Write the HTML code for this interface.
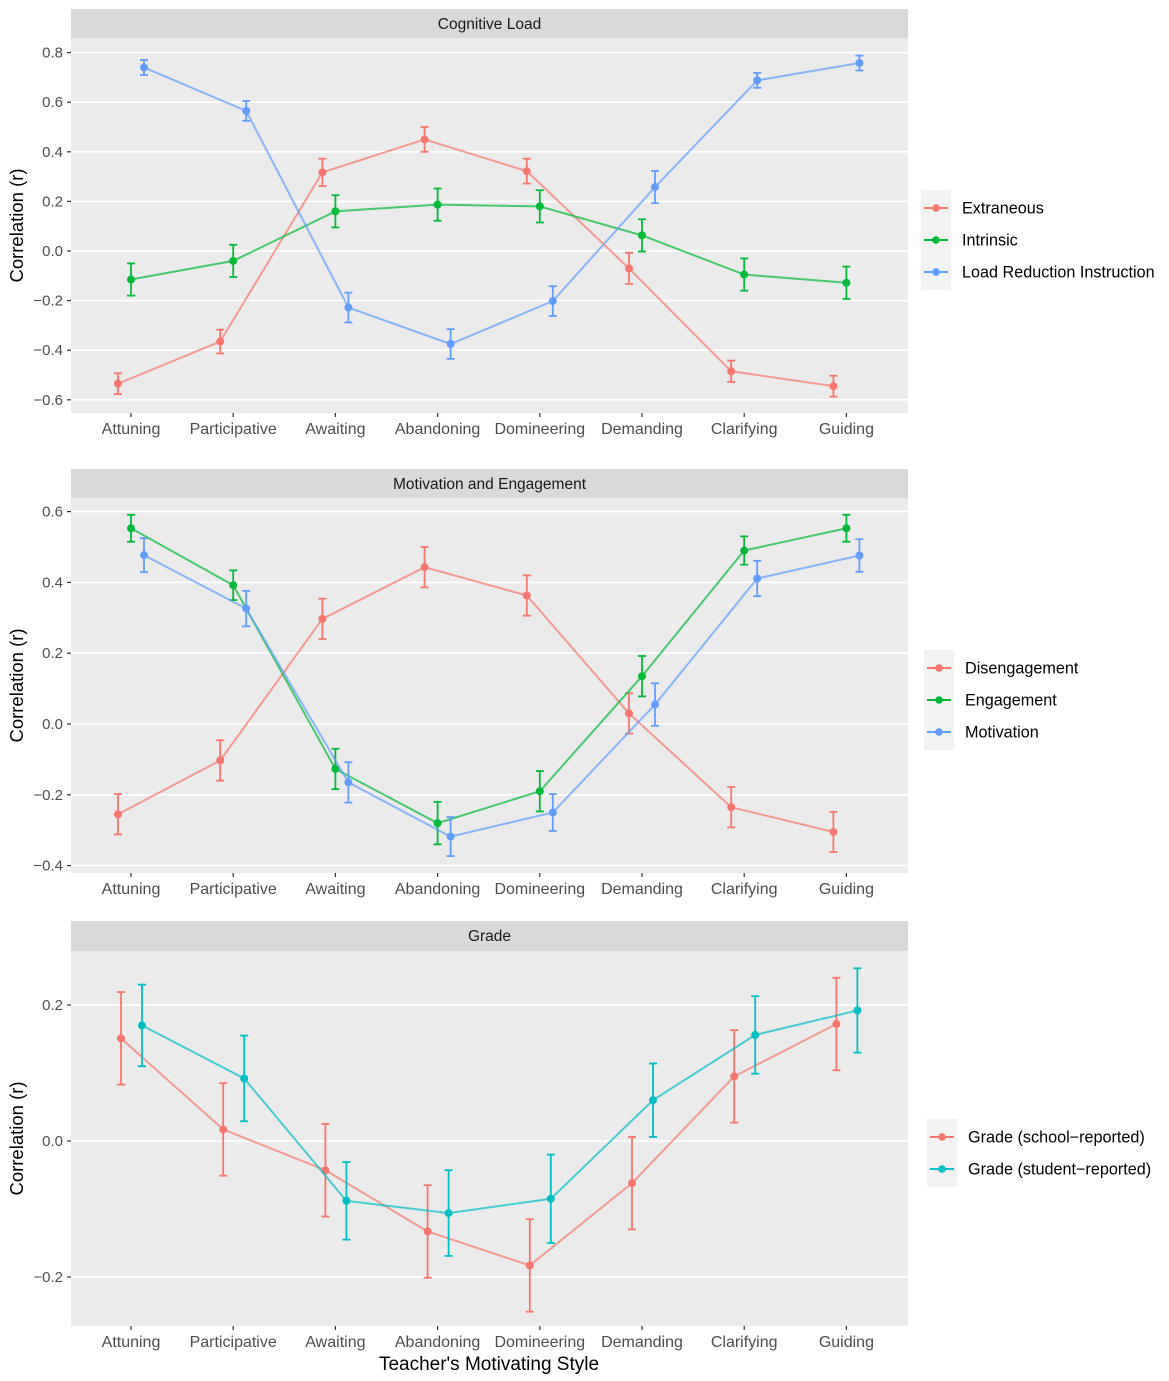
<!DOCTYPE html>
<html><head><meta charset="utf-8"><style>body{margin:0;background:#fff}svg{display:block}text{font-family:"Liberation Sans",sans-serif}</style></head><body>
<svg id="s" width="1169" height="1381" xmlns="http://www.w3.org/2000/svg"></svg>
<script>
const s=document.getElementById('s');let h='';
const cats=['Attuning','Participative','Awaiting','Abandoning','Domineering','Demanding','Clarifying','Guiding'];
const cx=i=>131+i*102.2;
function panel(o){
 const L=71,R=908;
 h+=`<rect x="${L}" y="${o.st}" width="${R-L}" height="${o.top-o.st}" fill="#D9D9D9"/>`;
 h+=`<text x="${(L+R)/2}" y="${o.st+20}" font-size="15.5" text-anchor="middle" fill="#1a1a1a">${o.title}</text>`;
 h+=`<rect x="${L}" y="${o.top}" width="${R-L}" height="${o.bot-o.top}" fill="#EBEBEB"/>`;
 const Y=v=>o.y0+(v-o.v0)*o.k;
 o.ticks.forEach(t=>{const y=Y(t);h+=`<line x1="${L}" x2="${R}" y1="${y}" y2="${y}" stroke="#fff" stroke-width="1.6"/><line x1="${L-4}" x2="${L}" y1="${y}" y2="${y}" stroke="#333" stroke-width="1.2"/><text x="${L-8}" y="${y+5}" font-size="15" text-anchor="end" fill="#4D4D4D">${t.toFixed(1).replace('-','−')}</text>`;});
 cats.forEach((c,i)=>{const x=cx(i);h+=`<line x1="${x}" x2="${x}" y1="${o.bot}" y2="${o.bot+4}" stroke="#333" stroke-width="1.2"/><text x="${x}" y="${o.bot+21}" font-size="16" text-anchor="middle" fill="#4D4D4D">${c}</text>`;});
 h+=`<text transform="translate(23,${(o.top+o.bot)/2}) rotate(-90)" font-size="18.5" text-anchor="middle" fill="#000">Correlation (r)</text>`;
 o.ser.forEach(se=>{
  const pts=se.d.map((v,i)=>[cx(i)+se.dx,Y(v)]);
  h+=`<polyline points="${pts.map(p=>p.join(',')).join(' ')}" fill="none" stroke="${se.c}" stroke-opacity="0.7" stroke-width="2"/>`;
  pts.forEach((p,i)=>{const e=(se.e[i]!==undefined?se.e[i]:se.e[0])*Math.abs(o.k);
   h+=`<g stroke="${se.c}" stroke-width="1.8"><line x1="${p[0]}" x2="${p[0]}" y1="${p[1]-e}" y2="${p[1]+e}"/><line x1="${p[0]-4}" x2="${p[0]+4}" y1="${p[1]-e}" y2="${p[1]-e}"/><line x1="${p[0]-4}" x2="${p[0]+4}" y1="${p[1]+e}" y2="${p[1]+e}"/></g><circle cx="${p[0]}" cy="${p[1]}" r="4" fill="${se.c}"/>`;});
 });
 const lx=o.lx;
 h+=`<rect x="${lx}" y="${o.ly-18}" width="30" height="${o.ser.length*32+4}" fill="#F2F2F2"/>`;
 o.ser.forEach((se,i)=>{const y=o.ly+i*32;h+=`<line x1="${lx+3}" x2="${lx+27}" y1="${y}" y2="${y}" stroke="${se.c}" stroke-width="2"/><circle cx="${lx+15}" cy="${y}" r="3.8" fill="${se.c}"/><text x="${lx+41}" y="${y+5.5}" font-size="16.2" fill="#000">${se.n}</text>`;});
}
panel({title:'Cognitive Load',st:9,top:38,bot:413,y0:251,v0:0,k:-248,ticks:[0.8,0.6,0.4,0.2,0,-0.2,-0.4,-0.6],lx:921,ly:208,ser:[
 {n:'Extraneous',c:'#F8766D',dx:-13,d:[-0.535,-0.365,0.317,0.45,0.322,-0.07,-0.485,-0.545],e:[0.042,0.048,0.055,0.05,0.05,0.063,0.043,0.042]},
 {n:'Intrinsic',c:'#00BA38',dx:0,d:[-0.115,-0.04,0.16,0.187,0.18,0.063,-0.095,-0.128],e:[0.065]},
 {n:'Load Reduction Instruction',c:'#619CFF',dx:13,d:[0.74,0.565,-0.228,-0.375,-0.202,0.258,0.688,0.758],e:[0.03,0.04,0.06,0.06,0.06,0.065,0.03,0.03]}]});
panel({title:'Motivation and Engagement',st:469,top:498,bot:873,y0:724,v0:0,k:-354,ticks:[0.6,0.4,0.2,0,-0.2,-0.4],lx:924,ly:668,ser:[
 {n:'Disengagement',c:'#F8766D',dx:-13,d:[-0.255,-0.103,0.297,0.443,0.363,0.03,-0.235,-0.305],e:[0.057]},
 {n:'Engagement',c:'#00BA38',dx:0,d:[0.553,0.392,-0.127,-0.28,-0.19,0.135,0.49,0.553],e:[0.038,0.042,0.057,0.06,0.057,0.057,0.04,0.038]},
 {n:'Motivation',c:'#619CFF',dx:13,d:[0.477,0.326,-0.165,-0.318,-0.25,0.055,0.411,0.476],e:[0.048,0.05,0.057,0.055,0.052,0.06,0.05,0.046]}]});
panel({title:'Grade',st:921,top:951,bot:1326,y0:1141,v0:0,k:-680,ticks:[0.2,0,-0.2],lx:927,ly:1137,ser:[
 {n:'Grade (school−reported)',c:'#F8766D',dx:-10,d:[0.151,0.017,-0.043,-0.133,-0.183,-0.062,0.095,0.172],e:[0.068]},
 {n:'Grade (student−reported)',c:'#00BFC4',dx:11,d:[0.17,0.092,-0.088,-0.106,-0.085,0.06,0.156,0.192],e:[0.06,0.063,0.057,0.063,0.065,0.054,0.057,0.062]}]});
h+=`<text x="489" y="1370" font-size="19" text-anchor="middle" fill="#000">Teacher's Motivating Style</text>`;
s.innerHTML=h;
</script></body></html>
